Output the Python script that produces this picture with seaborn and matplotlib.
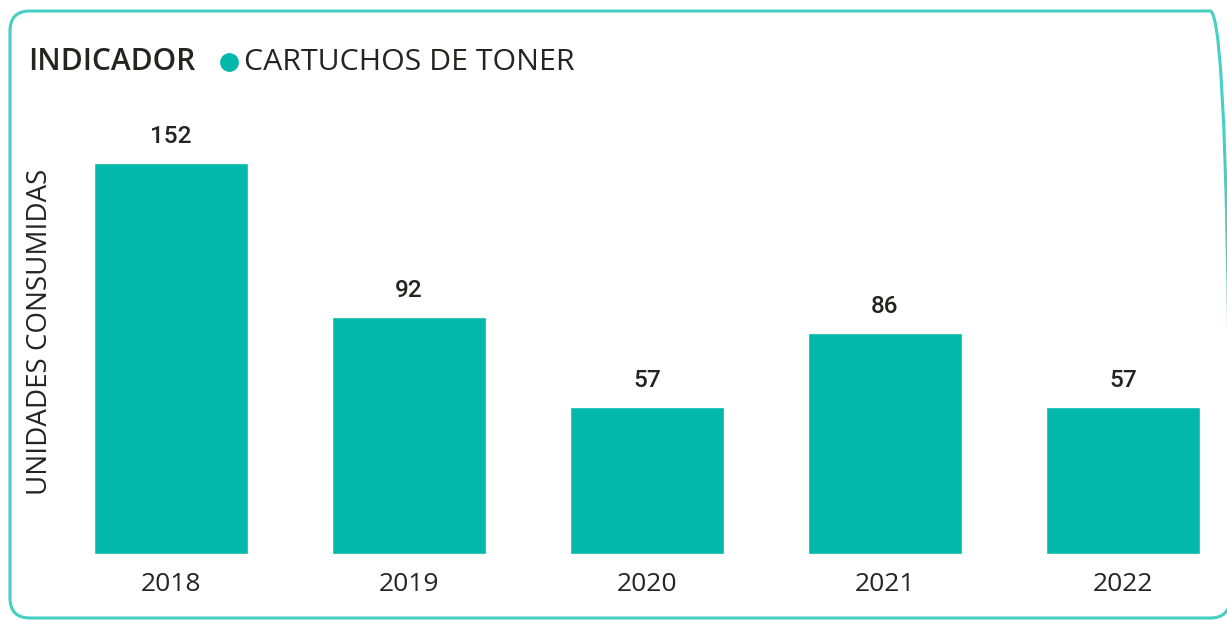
import matplotlib
matplotlib.use("Agg")
import matplotlib.pyplot as plt
from matplotlib.patches import FancyBboxPatch
from matplotlib.lines import Line2D
import pandas as pd
import seaborn as sns

# datos
years = ["2018", "2019", "2020", "2021", "2022"]
units = [152, 92, 57, 86, 57]
legend_title = "INDICADOR"
legend_label = "CARTUCHOS DE TONER"
y_label = "UNIDADES CONSUMIDAS"

BAR_COLOR = "#01B8AA"
BORDER_COLOR = "#45D0C3"
TEXT_COLOR = "#252423"

sns.set_style("white")
plt.rcParams["font.family"] = ["Open Sans", "DejaVu Sans"]

W, H = 1227, 621
fig = plt.figure(figsize=(W / 100, H / 100), dpi=100)

# ejes en pixeles: base en y=554, tope en y=110
ax_left, ax_right = 60, 1227
ax_bottom, ax_top = 554, 110
ax = fig.add_axes([ax_left / W, (H - ax_bottom) / H,
                   (ax_right - ax_left) / W, (ax_bottom - ax_top) / H])

df = pd.DataFrame({"year": years, "units": units})
sns.barplot(data=df, x="year", y="units", color=BAR_COLOR, width=0.643,
            saturation=1, ax=ax)

step = 238
ax.set_xlim((ax_left - 171) / step, (ax_right - 171) / step)
ax.set_ylim(0, (ax_bottom - ax_top) / 2.572)

for i, v in enumerate(units):
    ax.annotate(str(v), (i, v), xytext=(0, 15), textcoords="offset pixels",
                ha="center", va="bottom", fontsize=17.5, fontweight="medium",
                color=TEXT_COLOR, family=["Roboto", "DejaVu Sans"])

sns.despine(ax=ax, left=True, bottom=True)
ax.set_yticks([])
ax.set_xlabel("")
ax.set_ylabel("")
ax.tick_params(axis="x", length=0, pad=13, labelsize=19, labelcolor=TEXT_COLOR)

fig.text(40 / W, 1 - 332 / H, y_label, rotation=90, ha="center", va="center",
         fontsize=20, color=TEXT_COLOR)

# leyenda
fig.text(28 / W, 1 - 62 / H, legend_title, ha="left", va="center",
         fontsize=21.5, fontweight="semibold", color=TEXT_COLOR)
fig.add_artist(Line2D([229 / W], [1 - 62 / H], marker="o", markersize=12.5,
                      color=BAR_COLOR, linestyle="none",
                      transform=fig.transFigure))
fig.text(244 / W, 1 - 62 / H, legend_label, ha="left", va="center",
         fontsize=21.8, color=TEXT_COLOR)

# marco redondeado (el borde derecho queda fuera de la imagen)
frame = FancyBboxPatch((0.10, 0.03), 12.20, 6.07,
                       boxstyle="round,pad=0,rounding_size=0.2",
                       transform=fig.dpi_scale_trans, fill=False,
                       edgecolor=BORDER_COLOR, linewidth=2.2, clip_on=False)
fig.patches.append(frame)

fig.savefig("out.png", dpi=100)
plt.close(fig)
